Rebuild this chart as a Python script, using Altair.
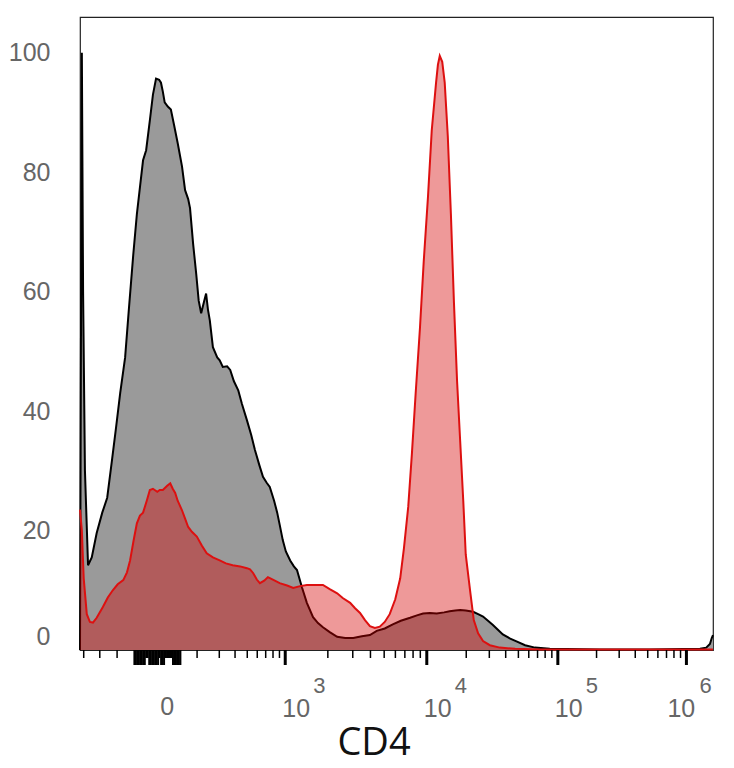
import math
import altair as alt
import pandas as pd

# ---------------- data (display channel 0..1024 on a biexponential axis) -------------
BLACK_CH = [0, 3, 5, 8, 13, 19, 27, 36, 44, 52, 58, 65, 73, 79, 86, 92, 97, 102, 107,
            113, 118, 123, 128, 131, 134, 137, 142, 147, 152, 158, 165, 170, 175, 178,
            183, 188, 192, 196, 201, 204, 207, 210, 215, 222, 226, 231, 238, 243, 249,
            256, 262, 270, 277, 283, 290, 296, 302, 307, 314, 319, 323, 328, 333, 340,
            346, 351, 359, 367, 377, 385, 393, 404, 416, 429, 442, 456, 469, 480, 493,
            506, 519, 534, 545, 555, 566, 577, 589, 598, 607, 615, 624, 636, 644, 652,
            660, 668, 676, 684, 696, 707, 720, 736, 760, 841, 922, 1003, 1013, 1019,
            1022, 1024]
BLACK_CNT = [0, 100, 60, 30, 14.2, 15.5, 19.6, 23, 25.5, 32, 37, 43, 49, 57, 66, 73,
             77.5, 82, 83.7, 88.7, 93, 95.7, 95.5, 95, 93.5, 91.7, 91, 90.5, 88, 84.9,
             81, 77, 75.5, 74, 68, 63, 58.5, 56.4, 58.5, 59.7, 57, 55.2, 50.7, 49, 48.5,
             47.4, 47.5, 46.9, 45, 43.5, 41.2, 38.5, 36, 33.5, 31, 29, 28, 27.3, 25, 23,
             21, 18.4, 16.5, 15, 14, 13.4, 10.5, 7.9, 5.5, 4.5, 3.8, 3, 2.2, 2, 2, 2.3,
             2.5, 3.2, 3.6, 4.3, 4.9, 5.4, 5.8, 6.1, 6.2, 6.1, 6.3, 6.5, 6.6, 6.7, 6.6,
             6.4, 6.0, 5.6, 4.9, 4.2, 3.4, 2.6, 1.9, 1.4, 0.8, 0.4, 0.2, 0.1, 0.1, 0.2,
             0.4, 1.0, 2.0, 2.5]

RED_CH = [0, 3, 6, 11, 16, 21, 27, 37, 45, 53, 61, 70, 76, 81, 87, 92, 97, 102, 108,
          113, 118, 125, 129, 134, 141, 146, 150, 154, 158, 165, 170, 175, 181, 189,
          197, 205, 215, 226, 236, 247, 259, 270, 275, 280, 286, 291, 298, 304, 312,
          323, 335, 345, 356, 367, 380, 393, 404, 416, 425, 437, 445, 453, 461, 469,
          477, 485, 493, 501, 510, 518, 524, 531, 537, 543, 550, 556, 563, 569, 576,
          579, 582, 586, 590, 595, 600, 605, 610, 615, 620, 624, 631, 637, 644, 652,
          663, 679, 704, 744, 1024]
RED_CNT = [23.5, 20, 12, 6, 4.7, 4.6, 5.4, 7.2, 8.8, 10, 11, 11.7, 13, 15, 18.5, 21.2,
           22.5, 23, 25, 26.8, 27, 26.5, 26.8, 26.8, 27.5, 27.9, 27, 26.3, 25, 23.4, 22,
           20.6, 19.8, 19, 17.5, 16.2, 15.5, 15, 14.5, 14.2, 14, 13.7, 13.5, 12.9, 11.8,
           11.2, 11.6, 12.2, 11.8, 11.2, 10.8, 10.4, 10.7, 10.9, 10.9, 10.9, 10.2, 9.5,
           8.7, 7.9, 7, 6.2, 5, 4, 3.7, 3.9, 4.7, 6, 8.5, 12, 17, 24, 33, 43, 54, 65,
           76, 87, 95, 98, 99.5, 98.5, 95, 86, 73, 58, 45, 35, 25, 16, 10, 5, 2.8, 1.5,
           0.8, 0.4, 0.2, 0.1, 0.1]

# axis calibration: decade positions of the biexponential display
DECADE_EXP = [3, 4, 5, 6]
DECADE_CH = [332, 561, 773, 981]
ZERO_CH = 141
Y_TICKS = [0, 20, 40, 60, 80, 100]


def to_channel(v):
    lv = math.log10(v)
    if lv >= 3:
        for i in range(3):
            if lv <= DECADE_EXP[i + 1]:
                f = (lv - DECADE_EXP[i]) / (DECADE_EXP[i + 1] - DECADE_EXP[i])
                return DECADE_CH[i] + f * (DECADE_CH[i + 1] - DECADE_CH[i])
        return DECADE_CH[-1]
    return DECADE_CH[0] - 204 * (3 - lv)


minor = [to_channel(k * 100) for k in range(2, 10)]
for d in (3, 4, 5):
    minor += [to_channel(k * 10 ** d) for k in range(2, 10)]
minor += [6, 32, 60]  # negative-side ticks
cluster = [88 + 2.4 * i for i in range(32)]
cl_long = [c for c in cluster if (88 <= c <= 105) or (112 <= c <= 128) or (131 <= c <= 136) or (150 <= c <= 163)]
cl_short = [c for c in cluster if c not in cl_long]

black = pd.DataFrame({"ch": BLACK_CH, "count": BLACK_CNT})
red = pd.DataFrame({"ch": RED_CH, "count": RED_CNT})

xscale = alt.Scale(domain=[0, 1024], nice=False, zero=False)
yscale = alt.Scale(domain=[0, 106], nice=False)

x_axis = alt.Axis(
    values=[0], labels=False, domain=False, grid=False, ticks=False,
    title="CD4", titleFont="Open Sans", titleFontSize=38, titleFontWeight="normal",
    titleColor="#111111", titleX=293.5, titleY=104, titleBaseline="alphabetic",
)
y_axis = alt.Axis(
    values=Y_TICKS, domain=False, grid=False, ticks=False, tickSize=0,
    labelPadding=30, labelFont="Liberation Sans", labelFontSize=25,
    labelColor="#666666", title=None,
    labelOffset={"condition": {"test": "datum.value === 0", "value": -14}, "value": 0},
)

x = alt.X("ch:Q", scale=xscale, axis=x_axis)
y = alt.Y("count:Q", scale=yscale, axis=y_axis)
xt = alt.X("ch:Q", scale=xscale)

gray_area = alt.Chart(black).mark_area(color="#9a9a9a", opacity=1).encode(x=x, y=y)
black_line = alt.Chart(black).mark_line(color="#000000", strokeWidth=2).encode(x=x, y=y)
red_area = alt.Chart(red).mark_area(color="#d40000", opacity=0.4).encode(x=x, y=y)
red_line = alt.Chart(red).mark_line(color="#dd1010", strokeWidth=2).encode(x=x, y=y)

# axis ticks drawn as rules on the x scale
def tick_layer(vals, length, width):
    df = pd.DataFrame({"ch": vals})
    return alt.Chart(df).mark_rule(color="#000000", strokeWidth=width).encode(
        x=xt, y=alt.value(633), y2=alt.value(633 + length))

t_major = tick_layer(DECADE_CH, 15, 3)
t_minor = tick_layer(minor, 8, 1.5)
t_cl_long = tick_layer(cl_long, 15, 2)
t_cl_short = tick_layer(cl_short, 8, 2)

# tick labels (10 with superscript exponents)
lab = pd.DataFrame({
    "ch": DECADE_CH,
    "base": ["10"] * 4,
    "exp": [str(e) for e in DECADE_EXP],
})
zero_lab = pd.DataFrame({"ch": [ZERO_CH], "txt": ["0"]})
font = dict(font="Liberation Sans", color="#666666")

lab_main = lab[lab["exp"] != "6"]
lab_last = lab[lab["exp"] == "6"]

t_base = alt.Chart(lab_main).mark_text(align="left", baseline="alphabetic", dx=-3, fontSize=25, **font).encode(
    x=xt, y=alt.value(700), text="base:N")
t_exp = alt.Chart(lab_main).mark_text(align="left", baseline="alphabetic", dx=28, fontSize=22, **font).encode(
    x=xt, y=alt.value(676), text="exp:N")
t_base6 = alt.Chart(lab_last).mark_text(align="left", baseline="alphabetic", dx=-19, fontSize=25, **font).encode(
    x=xt, y=alt.value(700), text="base:N")
t_exp6 = alt.Chart(lab_last).mark_text(align="left", baseline="alphabetic", dx=13, fontSize=22, **font).encode(
    x=xt, y=alt.value(676), text="exp:N")
t_zero = alt.Chart(zero_lab).mark_text(align="center", baseline="alphabetic", fontSize=25, **font).encode(
    x=xt, y=alt.value(698), text="txt:N")

chart = alt.layer(
    gray_area, black_line, red_area, red_line,
    t_major, t_minor, t_cl_long, t_cl_short,
    t_base, t_exp, t_base6, t_exp6, t_zero,
).properties(
    width=633, height=633,
    autosize=alt.AutoSizeParams(type="none"),
    padding={"left": 72, "top": 9, "right": 13, "bottom": 116},
).configure_view(
    stroke="#222222", strokeWidth=1.2,
)

chart.save("out.html", embed_options={"renderer": "svg", "actions": False})
